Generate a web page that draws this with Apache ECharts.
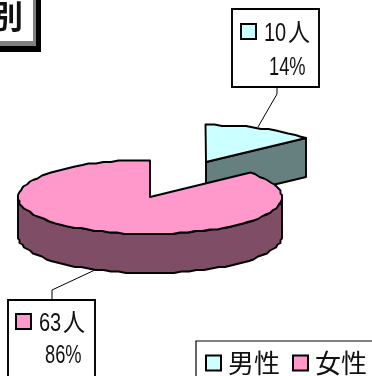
<!DOCTYPE html>
<html>
<head>
<meta charset="utf-8">
<style>html,body{margin:0;padding:0;background:#fff}#c{width:372px;height:376px}</style>
<script src="https://cdn.jsdelivr.net/npm/echarts@6/dist/echarts.min.js"></script>
</head>
<body>
<div id="c"></div>
<script>
const categories = ['男性', '女性'];
const counts = [10, 63];
const percentLabels = ['14%', '86%'];
const unit = '人';
const titleText = '別';

const topColors = ['#CCFFFF', '#FF99CC'];
const wallColors = ['#668080', '#804D66'];
const total = counts.reduce((a, b) => a + b, 0);
const LINE = 1.9;

// Layout of the tilted disc and the pulled-out wedge
const disc = { cx: 150, cy: 197, rx: 132, ry: 37, depth: 39 };
const pull = [{ x: 56, y: -35 }, { x: 0, y: 0 }];
const callouts = [
  { box: [232, 9, 87, 78], swatch: [241, 24], text: 264, pct: 269, base: [44, 78], lead: [[277, 87], [277, 94], [258, 127]] },
  { box: [8, 300, 87, 78], swatch: [16, 314], text: 39, pct: 45, base: [334, 366], lead: [[52, 300], [52, 290], [97, 269]] }
];

// Point on the ellipse, clockwise from twelve o'clock; snapped to a coarse grid
// so the rim keeps its faceted look
function rim(theta, o) {
  const snap = v => Math.round(v / 1.5) * 1.5;
  return [
    snap(disc.cx + o.x + disc.rx * Math.sin(theta)),
    snap(disc.cy + o.y - disc.ry * Math.cos(theta))
  ];
}
function arc(from, to, o) {
  const pts = [];
  const n = Math.max(2, Math.round(Math.abs(to - from) / 0.06));
  for (let i = 0; i <= n; i++) pts.push(rim(from + (to - from) * i / n, o));
  return pts;
}
function poly(points, fill) {
  return {
    type: 'polygon',
    shape: { points },
    style: { fill, stroke: '#000', lineWidth: LINE, lineJoin: 'round' }
  };
}
function label(text, x, y, squeeze) {
  return {
    type: 'text',
    x, y,
    scaleX: squeeze,
    style: {
      text, x: 0, y: 0, fill: '#111', textAlign: 'left', textVerticalAlign: 'bottom',
      font: "25px 'Liberation Sans','Noto Sans CJK JP',sans-serif"
    }
  };
}

function renderWedge(idx) {
  return function (params, api) {
    const v = api.value(0);
    const before = counts.slice(0, idx).reduce((a, b) => a + b, 0);
    const a0 = before / total * Math.PI * 2;
    const a1 = a0 + v / total * Math.PI * 2;
    const o = pull[idx];
    const apex = [disc.cx + o.x, disc.cy + o.y];
    const d = disc.depth;
    const children = [];

    // Side wall: the outer rim where it faces front, or the cut face for the small wedge
    const wallFrom = Math.max(a0, Math.PI / 2);
    const wallTo = Math.min(a1, Math.PI * 1.5);
    if (wallTo > wallFrom) {
      const upper = arc(wallFrom, wallTo, o);
      const lower = upper.map(p => [p[0], p[1] + d]).reverse();
      children.push(poly(upper.concat(lower), wallColors[idx]));
    } else {
      const edge = rim(a1, o);
      children.push(poly([apex, edge, [edge[0], edge[1] + d], [apex[0], apex[1] + d]], wallColors[idx]));
    }
    // Top face
    children.push(poly([apex].concat(arc(a0, a1, o)), topColors[idx]));

    // Callout
    const c = callouts[idx];
    children.push({ type: 'polyline', shape: { points: c.lead }, style: { fill: null, stroke: '#000', lineWidth: 1 } });
    children.push({
      type: 'rect',
      shape: { x: c.box[0], y: c.box[1], width: c.box[2], height: c.box[3] },
      style: { fill: '#fff', stroke: '#000', lineWidth: LINE }
    });
    children.push({
      type: 'rect',
      shape: { x: c.swatch[0], y: c.swatch[1], width: 15, height: 15 },
      style: { fill: topColors[idx], stroke: '#000', lineWidth: LINE }
    });
    children.push(label(String(v), c.text, c.base[0] + 3, 0.8));
    children.push(label(unit, c.text + 24, c.base[0] + 3, 0.88));
    children.push(label(percentLabels[idx], c.pct, c.base[1] + 3, 0.73));
    return { type: 'group', children };
  };
}

const chart = echarts.init(document.getElementById('c'), null, { renderer: 'canvas' });
chart.setOption({
  animation: false,
  backgroundColor: '#fff',
  xAxis: { show: false },
  yAxis: { show: false },
  grid: { left: 0, right: 0, top: 0, bottom: 0 },
  legend: {
    left: 196, top: 341, width: 300,
    padding: [9, 20, 10, 9],
    itemGap: 12, itemWidth: 15, itemHeight: 15,
    borderColor: '#000', borderWidth: 1.2,
    selectedMode: false,
    icon: 'rect',
    data: categories,
    textStyle: { fontSize: 26, color: '#111', fontFamily: "'Noto Sans CJK JP',sans-serif", padding: [0, 0, 0, 2] }
  },
  graphic: [
    { type: 'rect', shape: { x: -10, y: -10, width: 51, height: 62 }, style: { fill: '#000' } },
    { type: 'rect', shape: { x: -10, y: -10, width: 46, height: 56 }, style: { fill: '#808080' } },
    { type: 'rect', shape: { x: -10, y: -10, width: 43, height: 51 }, style: { fill: '#fff' } },
    { type: 'text', style: { text: titleText, x: -9, y: 0, fill: '#111', font: "bold 32px 'Noto Sans CJK JP',sans-serif" } }
  ],
  series: categories.map((name, i) => ({
    type: 'custom',
    name,
    coordinateSystem: 'none',
    renderItem: renderWedge(i),
    itemStyle: { color: topColors[i], borderColor: '#000', borderWidth: 1.5 },
    data: [[counts[i]]]
  }))
});
</script>
</body>
</html>
